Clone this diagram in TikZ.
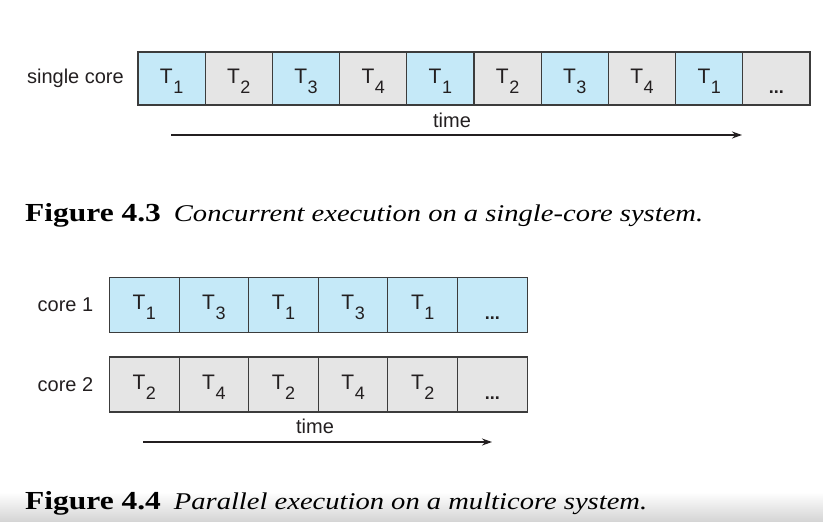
\documentclass[tikz,border=0pt]{standalone}
\usepackage{fontspec}
\setmainfont{Liberation Serif}
\setsansfont{Liberation Sans}
\usetikzlibrary{arrows.meta, positioning}
\definecolor{slotblue}{RGB}{197,233,248}
\definecolor{slotgray}{RGB}{229,229,229}
\definecolor{slotline}{RGB}{60,60,60}
\definecolor{inkgray}{RGB}{35,31,32}
\newcommand{\tk}[1]{T\kern0.5pt\raisebox{-10pt}{\fontsize{18}{18}\selectfont #1}}
\newcommand{\more}{\raisebox{-10pt}{\fontsize{18}{18}\selectfont\bfseries ...}}
\newcommand{\figno}[1]{\scalebox{1.21}[1]{\fontsize{26}{26}\selectfont\bfseries #1}}
\newcommand{\figtxt}[1]{\scalebox{1.19}[1]{\itshape #1}}
\tikzset{
    slot/.style={rectangle, draw=slotline, line width=1.1pt, inner sep=0pt,
                 outer sep=0pt, text height=19pt, text depth=10pt,
                 font=\sffamily\fontsize{21}{21}\selectfont, text=inkgray},
    topslot/.style={slot, minimum width=67.2pt, minimum height=53pt},
    coreslot/.style={slot, minimum width=69.6pt, minimum height=55pt},
    bluefill/.style={fill=slotblue},
    grayfill/.style={fill=slotgray},
    rowlbl/.style={font=\sffamily\fontsize{20}{20}\selectfont, text=inkgray, inner sep=0pt},
    timearrow/.style={-{Stealth[length=10pt, width=7pt]}, line width=1.4pt, draw=inkgray},
    caption/.style={font=\fontsize{24}{24}\selectfont, inner sep=0pt, anchor=base west},
}

\begin{document}
\begin{tikzpicture}[x=1pt, y=-1pt]
    \useasboundingbox (0,0) rectangle (823,522);
    \shade[top color=white, bottom color=black!17] (0,492) rectangle (823,522);

    % single core
    \node[topslot, bluefill] (s1) at (171.6,78.5) {\tk{1}};
    \node[topslot, grayfill, right=0pt of s1] (s2) {\tk{2}};
    \node[topslot, bluefill, right=0pt of s2] (s3) {\tk{3}};
    \node[topslot, grayfill, right=0pt of s3] (s4) {\tk{4}};
    \node[topslot, bluefill, right=0pt of s4] (s5) {\tk{1}};
    \node[topslot, grayfill, right=0pt of s5] (s6) {\tk{2}};
    \node[topslot, bluefill, right=0pt of s6] (s7) {\tk{3}};
    \node[topslot, grayfill, right=0pt of s7] (s8) {\tk{4}};
    \node[topslot, bluefill, right=0pt of s8] (s9) {\tk{1}};
    \node[topslot, grayfill, right=0pt of s9] (s10) {\more};
    \node[rowlbl, left=14pt of s1] (single) {single core};
    \node[rowlbl] (time1) at (452,120) {time};
    \coordinate (t1start) at (171,135);
    \coordinate (t1end) at (742,135);
    \draw[timearrow] (t1start) -- (t1end);

    \node[caption] (cap3) at (25,221)
        {\figno{Figure 4.3}\hspace{13pt}\figtxt{Concurrent execution on a single-core system.}};

    % multicore
    \node[coreslot, bluefill] (a1) at (144.3,305) {\tk{1}};
    \node[coreslot, bluefill, right=0pt of a1] (a2) {\tk{3}};
    \node[coreslot, bluefill, right=0pt of a2] (a3) {\tk{1}};
    \node[coreslot, bluefill, right=0pt of a3] (a4) {\tk{3}};
    \node[coreslot, bluefill, right=0pt of a4] (a5) {\tk{1}};
    \node[coreslot, bluefill, right=0pt of a5] (a6) {\more};
    \node[coreslot, grayfill] (b1) at (144.3,384.5) {\tk{2}};
    \node[coreslot, grayfill, right=0pt of b1] (b2) {\tk{4}};
    \node[coreslot, grayfill, right=0pt of b2] (b3) {\tk{2}};
    \node[coreslot, grayfill, right=0pt of b3] (b4) {\tk{4}};
    \node[coreslot, grayfill, right=0pt of b4] (b5) {\tk{2}};
    \node[coreslot, grayfill, right=0pt of b5] (b6) {\more};
    \node[rowlbl, left=16pt of a1] (core1) {core 1};
    \node[rowlbl, left=16pt of b1] (core2) {core 2};
    \node[rowlbl] (time2) at (315,426) {time};
    \coordinate (t2start) at (143,442);
    \coordinate (t2end) at (492,442);
    \draw[timearrow] (t2start) -- (t2end);

    \node[caption] (cap4) at (25,509)
        {\figno{Figure 4.4}\hspace{13pt}\figtxt{Parallel execution on a multicore system.}};
\end{tikzpicture}
\end{document}
